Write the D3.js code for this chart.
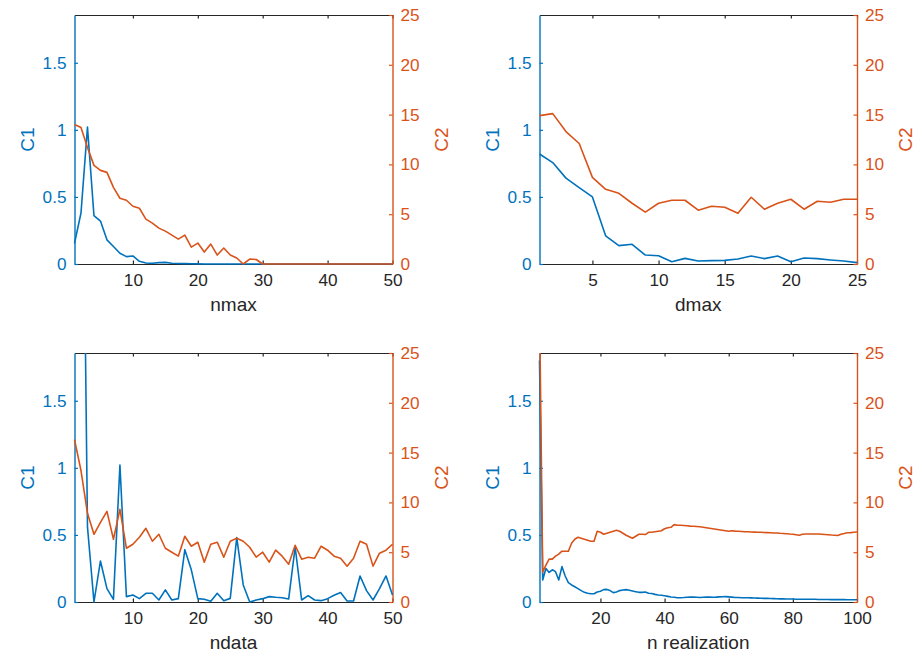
<!DOCTYPE html>
<html>
<head>
<meta charset="utf-8">
<script src="https://cdn.jsdelivr.net/npm/d3@7"></script>
<style>
  html, body { margin: 0; padding: 0; background: #fff; }
  svg { display: block; font-family: "Liberation Sans", Arial, Helvetica, sans-serif; }
</style>
</head>
<body>
<svg id="chart" width="923" height="659"></svg>
<script>
// ---------------- DATA ----------------
const nmaxC1 = [0.154, 0.38, 1.02, 0.36, 0.32, 0.18, 0.13, 0.08, 0.055, 0.06,
  0.02, 0.008, 0.005, 0.01, 0.012, 0.006, 0.004, 0.003, 0.002, 0.001,
  0, 0, 0, 0, 0, 0, 0, 0, 0, 0,
  0, 0, 0, 0, 0, 0, 0, 0, 0, 0,
  0, 0, 0, 0, 0, 0, 0, 0, 0, 0];
const nmaxC2 = [14.0, 13.7, 11.7, 9.9, 9.4, 9.2, 7.7, 6.6, 6.4, 5.8,
  5.6, 4.5, 4.1, 3.6, 3.3, 2.9, 2.5, 2.9, 1.7, 2.1,
  1.2, 2.0, 0.9, 1.6, 0.9, 0.6, 0, 0.5, 0.45, 0,
  0, 0, 0, 0, 0, 0, 0, 0, 0, 0,
  0, 0, 0, 0, 0, 0, 0, 0, 0, 0];

const dmaxC1 = [0.82, 0.756, 0.64, 0.57, 0.50, 0.21, 0.137, 0.147, 0.067, 0.062,
  0.017, 0.042, 0.022, 0.025, 0.027, 0.037, 0.06, 0.04, 0.06, 0.017,
  0.045, 0.04, 0.03, 0.022, 0.01];
const dmaxC2 = [14.9, 15.1, 13.3, 12.1, 8.7, 7.5, 7.1, 6.1, 5.2, 6.1,
  6.4, 6.4, 5.4, 5.8, 5.7, 5.1, 6.7, 5.5, 6.1, 6.5,
  5.5, 6.3, 6.2, 6.5, 6.5];

const ndataC1 = [5.0, 4.8, 0.56, 0, 0.306, 0.10, 0.02, 1.02, 0.04, 0.052,
  0.025, 0.065, 0.065, 0.015, 0.09, 0.015, 0.025, 0.39, 0.24, 0.025,
  0.02, 0.005, 0.065, 0.01, 0.027, 0.48, 0.127, 0, 0.015, 0.025,
  0.04, 0.035, 0.032, 0.022, 0.41, 0.015, 0.047, 0.015, 0.01, 0.025,
  0.05, 0.07, 0.007, 0.007, 0.194, 0.085, 0.015, 0.10, 0.194, 0.052];
const ndataC2 = [16.3, 13.2, 8.9, 6.8, 8.0, 9.1, 6.3, 9.3, 5.4, 5.8,
  6.5, 7.4, 6.1, 6.8, 5.4, 5.0, 4.6, 6.6, 5.6, 6.0,
  4.0, 5.8, 6.0, 4.5, 6.1, 6.4, 6.1, 5.5, 4.5, 5.0,
  4.0, 5.2, 4.6, 3.8, 5.7, 4.3, 4.5, 4.4, 5.6, 5.2,
  4.6, 4.4, 3.6, 4.4, 6.1, 5.8, 3.6, 4.9, 5.2, 5.8];

const nrealC1 = [1.8, 0.164, 0.25, 0.22, 0.24, 0.226, 0.164, 0.264, 0.194, 0.144,
  0.127, 0.114, 0.10, 0.085, 0.072, 0.065, 0.062, 0.062, 0.075, 0.08,
  0.092, 0.094, 0.085, 0.07, 0.075, 0.085, 0.09, 0.092, 0.087, 0.082,
  0.077, 0.072, 0.072, 0.074, 0.065, 0.063, 0.057, 0.052, 0.05, 0.047,
  0.042, 0.037, 0.035, 0.032, 0.032, 0.033, 0.035, 0.037, 0.036, 0.035,
  0.034, 0.035, 0.036, 0.036, 0.035, 0.036, 0.038, 0.039, 0.040, 0.038,
  0.036, 0.034, 0.033, 0.032, 0.032, 0.032, 0.031, 0.030, 0.029, 0.028,
  0.027, 0.027, 0.026, 0.025, 0.024, 0.023, 0.023, 0.022, 0.022, 0.022,
  0.021, 0.021, 0.021, 0.020, 0.020, 0.020, 0.020, 0.019, 0.019, 0.019,
  0.019, 0.018, 0.018, 0.018, 0.018, 0.018, 0.017, 0.017, 0.017, 0.017];
const nrealC2 = [30, 3.0, 3.7, 4.3, 4.3, 4.6, 4.8, 5.1, 5.1, 5.1,
  5.9, 6.3, 6.5, 6.4, 6.3, 6.2, 6.1, 6.1, 7.1, 7.0,
  6.8, 6.9, 7.0, 7.1, 7.2, 7.1, 6.9, 6.7, 6.55, 6.4,
  6.6, 6.8, 6.8, 6.77, 7.0, 7.0, 7.05, 7.1, 7.15, 7.35,
  7.45, 7.5, 7.77, 7.7, 7.7, 7.68, 7.65, 7.62, 7.6, 7.58,
  7.55, 7.5, 7.45, 7.4, 7.35, 7.3, 7.25, 7.2, 7.15, 7.1,
  7.15, 7.12, 7.1, 7.08, 7.05, 7.05, 7.03, 7.02, 7.0, 7.0,
  6.98, 6.97, 6.95, 6.93, 6.93, 6.9, 6.88, 6.85, 6.82, 6.8,
  6.75, 6.7, 6.8, 6.83, 6.82, 6.83, 6.82, 6.82, 6.8, 6.78,
  6.75, 6.72, 6.7, 6.67, 6.8, 6.87, 6.95, 6.97, 7.0, 7.03];

const xLabels = ["nmax", "dmax", "ndata", "n realization"];
const xTicks = [[10, 20, 30, 40, 50], [5, 10, 15, 20, 25], [10, 20, 30, 40, 50], [20, 40, 60, 80, 100]];
const xMax = [50, 25, 50, 100];
const c1Ticks = [0, 0.5, 1, 1.5];
const c2Ticks = [0, 5, 10, 15, 20, 25];
const c1Max = 1.856;
const c2Max = 25;
const c1Label = "C1";
const c2Label = "C2";

// ---------------- LAYOUT ----------------
const BLUE = "#0072BD", ORANGE = "#D95319", DARK = "#262626";
const panels = [
  { left: 74.5, right: 392.5, top: 15, bottom: 264, c1: nmaxC1, c2: nmaxC2 },
  { left: 539.5, right: 857, top: 15, bottom: 264, c1: dmaxC1, c2: dmaxC2 },
  { left: 74.5, right: 392.5, top: 353, bottom: 602, c1: ndataC1, c2: ndataC2 },
  { left: 539.5, right: 857, top: 353, bottom: 602, c1: nrealC1, c2: nrealC2 }
];
const svg = d3.select("#chart");
const tickLen = 3.5;
const tickFont = 17.2, labelFont = 19;
const FF = "Liberation Sans, Arial, sans-serif";

panels.forEach((p, i) => {
  const g = svg.append("g");
  const x = d3.scaleLinear().domain([1, xMax[i]]).range([p.left, p.right]);
  const y1 = d3.scaleLinear().domain([0, c1Max]).range([p.bottom, p.top]);
  const y2 = d3.scaleLinear().domain([0, c2Max]).range([p.bottom, p.top]);
  const h = p.bottom - p.top;

  // Bottom x axis (ticks inward)
  const xb = g.append("g").attr("transform", `translate(0,${p.bottom})`)
    .call(d3.axisBottom(x).tickValues(xTicks[i]).tickSizeInner(-tickLen).tickSizeOuter(0).tickPadding(8));
  xb.select(".domain").attr("stroke", DARK).attr("stroke-width", 1.2);
  xb.selectAll(".tick line").attr("stroke", DARK).attr("stroke-width", 1.2);
  xb.selectAll(".tick text").attr("fill", DARK).attr("font-size", tickFont)
    .attr("font-family", FF).attr("dy", "0.95em").attr("y", 5.5);

  // Top x axis (no labels)
  const xt = g.append("g").attr("transform", `translate(0,${p.top})`)
    .call(d3.axisTop(x).tickValues(xTicks[i]).tickSizeInner(-tickLen).tickSizeOuter(0).tickFormat(""));
  xt.select(".domain").attr("stroke", DARK).attr("stroke-width", 1.2);
  xt.selectAll(".tick line").attr("stroke", DARK).attr("stroke-width", 1.2);

  // Left C1 axis
  const yl = g.append("g").attr("transform", `translate(${p.left},0)`)
    .call(d3.axisLeft(y1).tickValues(c1Ticks).tickSizeInner(-tickLen).tickSizeOuter(0).tickPadding(8)
      .tickFormat(d => d3.format("")(d)));
  yl.select(".domain").attr("stroke", BLUE).attr("stroke-width", 1.4);
  yl.selectAll(".tick line").attr("stroke", BLUE).attr("stroke-width", 1.2);
  yl.selectAll(".tick text").attr("fill", BLUE).attr("font-size", tickFont).attr("font-family", FF);

  // Right C2 axis
  const yr = g.append("g").attr("transform", `translate(${p.right},0)`)
    .call(d3.axisRight(y2).tickValues(c2Ticks).tickSizeInner(-tickLen).tickSizeOuter(0).tickPadding(8));
  yr.select(".domain").attr("stroke", ORANGE).attr("stroke-width", 1.4);
  yr.selectAll(".tick line").attr("stroke", ORANGE).attr("stroke-width", 1.2);
  yr.selectAll(".tick text").attr("fill", ORANGE).attr("font-size", tickFont).attr("font-family", FF);

  // Clip path (clip at top, allow zero line fully visible)
  const clipId = "clip" + i;
  svg.append("clipPath").attr("id", clipId).append("rect")
    .attr("x", p.left - 2).attr("y", p.top).attr("width", p.right - p.left + 4).attr("height", h + 3);

  const lineG = g.append("g").attr("clip-path", `url(#${clipId})`);
  const l1 = d3.line().x((d, j) => x(j + 1)).y(d => y1(d));
  const l2 = d3.line().x((d, j) => x(j + 1)).y(d => y2(d));
  lineG.append("path").datum(p.c1).attr("d", l1).attr("fill", "none")
    .attr("stroke", BLUE).attr("stroke-width", 1.6).attr("stroke-linejoin", "round");
  lineG.append("path").datum(p.c2).attr("d", l2).attr("fill", "none")
    .attr("stroke", ORANGE).attr("stroke-width", 1.6).attr("stroke-linejoin", "round");

  // Axis labels
  const cy = (p.top + p.bottom) / 2;
  g.append("text").attr("transform", `translate(${p.left - 41},${cy}) rotate(-90)`)
    .attr("text-anchor", "middle").attr("fill", BLUE).attr("font-size", labelFont).attr("font-family", FF).text(c1Label);
  g.append("text").attr("transform", `translate(${p.right + 55},${cy}) rotate(-90)`)
    .attr("text-anchor", "middle").attr("fill", ORANGE).attr("font-size", labelFont).attr("font-family", FF).text(c2Label);
  g.append("text").attr("x", (p.left + p.right) / 2).attr("y", p.bottom + 47)
    .attr("text-anchor", "middle").attr("fill", DARK).attr("font-size", labelFont).attr("font-family", FF).text(xLabels[i]);
});
</script>
</body>
</html>
